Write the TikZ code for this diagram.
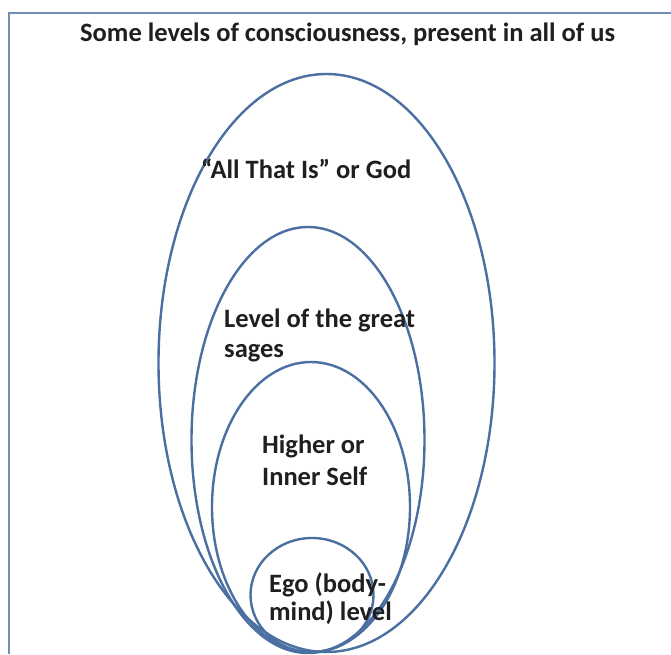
\documentclass[tikz,border=0pt]{standalone}
\usepackage{fontspec}
\setmainfont{Carlito}
\usetikzlibrary{shapes.geometric}
\definecolor{ringblue}{HTML}{4A6FA0}
\definecolor{frameblue}{HTML}{6E8DB8}
\tikzset{
  ring/.style={ellipse, draw=ringblue, line width=2.4pt, inner sep=0pt, outer sep=0pt},
  label/.style={font=\fontsize{26.5}{32}\selectfont\bfseries, text=black!88, inner sep=0pt, anchor=base west},
}
\begin{document}
\begin{tikzpicture}[x=1pt,y=-1pt]
\useasboundingbox (0,0) rectangle (671,654);
\fill[white] (0,0) rectangle (671,654);
\draw[frameblue, line width=2pt] (9,654) -- (9,13) -- (671,13);
\node[label] (title) at (80,41) {Some levels of consciousness, present in all of us};
\node[ring, minimum width=336pt, minimum height=578pt] (outer) at (326.5,363) {};
\node[ring, minimum width=233pt, minimum height=426pt] (sages) at (308,440) {};
\node[ring, minimum width=198pt, minimum height=290pt] (higher) at (311,507) {};
\node[ring, minimum width=123pt, minimum height=114pt] (ego) at (312,595) {};
\node[label] (god) at (201,178) {“All That Is” or God};
\node[label] (sagesA) at (224,327) {Level of the great};
\node[label] (sagesB) at (224,357) {sages};
\node[label] (higherA) at (262,453) {Higher or};
\node[label] (higherB) at (262,485) {Inner Self};
\node[label] (egoA) at (269,592) {Ego (body-};
\node[label] (egoB) at (269,620) {mind) level};
\end{tikzpicture}
\end{document}
